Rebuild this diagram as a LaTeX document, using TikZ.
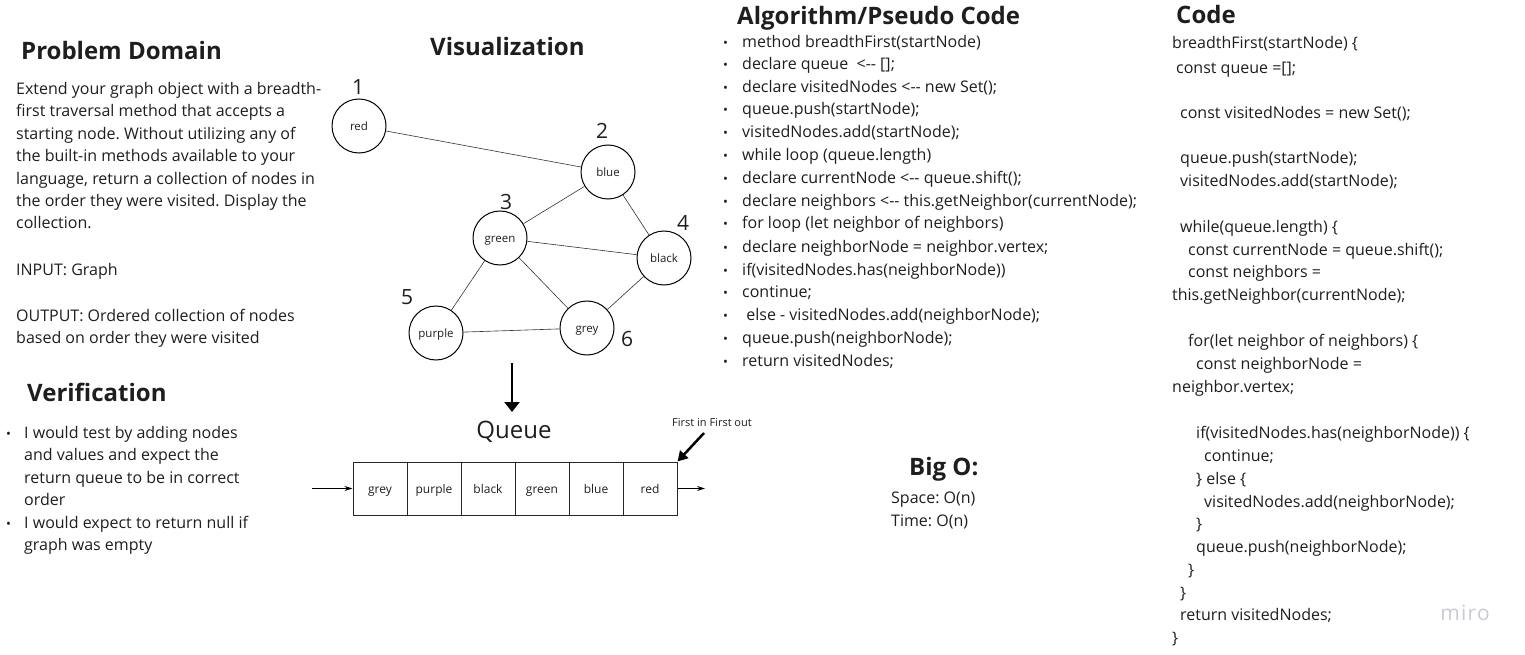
\documentclass[tikz,border=0pt]{standalone}
\usepackage{fontspec}
\setmainfont{Open Sans}
\usetikzlibrary{arrows.meta}
\frenchspacing
\definecolor{ink}{HTML}{1E1E1E}
\definecolor{miro}{HTML}{C9CAD3}
\tikzset{
  heading/.style={anchor=base west, inner sep=0pt, font=\fontsize{24}{27}\selectfont\bfseries, text=ink},
  body/.style={anchor=base west, inner sep=0pt, font=\fontsize{16}{18}\selectfont, text=ink},
  bul/.style={anchor=base west, inner sep=0pt, font=\fontsize{13}{15}\selectfont, text=ink},
  vertex/.style={circle, draw=black, line width=1pt, minimum size=54pt, inner sep=0pt, text height=9.5pt, text depth=1pt, font=\fontsize{11.5}{13}\selectfont, text=ink},
  num/.style={inner sep=0pt, font=\fontsize{21}{24}\selectfont, text=ink},
  edge/.style={draw=black!80, line width=0.6pt},
  cell/.style={draw=black!85, line width=1pt, minimum width=54pt, minimum height=53pt, inner sep=0pt, text height=10.5pt, text depth=1pt, font=\fontsize{12}{14}\selectfont, text=ink},
}
\begin{document}
\begin{tikzpicture}[x=1pt,y=-1pt]
\useasboundingbox (0,0) rectangle (1525,655);
% ---------- Problem domain ----------
\node[heading] (hpd) at (21,60) {Problem Domain};
\node[body] (pd1) at (16,95) {Extend your graph object with a breadth-};
\node[body] (pd2) at (16,117) {first traversal method that accepts a};
\node[body] (pd3) at (16,140) {starting node. Without utilizing any of};
\node[body] (pd4) at (16,162) {the built-in methods available to your};
\node[body] (pd5) at (16,185) {language, return a collection of nodes in};
\node[body] (pd6) at (16,207) {the order they were visited. Display the};
\node[body] (pd7) at (16,229) {collection.};
\node[body] (pd8) at (16,275) {INPUT: Graph};
\node[body] (pd9) at (16,321) {OUTPUT: Ordered collection of nodes};
\node[body] (pd10) at (16,343) {based on order they were visited};
% ---------- Verification ----------
\node[heading] (hver) at (27,401) {Verification};
\node[bul] (vb1) at (6,438) {•};
\node[body] (v1) at (24,438) {I would test by adding nodes};
\node[body] (v2) at (24,460) {and values and expect the};
\node[body] (v3) at (24,483) {return queue to be in correct};
\node[body] (v4) at (24,505) {order};
\node[bul] (vb2) at (6,528) {•};
\node[body] (v5) at (24,528) {I would expect to return null if};
\node[body] (v6) at (24,550) {graph was empty};
% ---------- Visualization ----------
\node[heading] (hvis) at (430,56) {Visualization};
\node[vertex] (red) at (359,126) {red};
\node[vertex] (blue) at (608,172) {blue};
\node[vertex] (green) at (500,238) {green};
\node[vertex] (black) at (664,258) {black};
\node[vertex] (purple) at (436,333) {purple};
\node[vertex] (grey) at (587,328) {grey};
\node[num] (n1) at (358,87) {1};
\node[num] (n2) at (602,131) {2};
\node[num] (n3) at (506,202) {3};
\node[num] (n4) at (683,223) {4};
\node[num] (n5) at (407,297) {5};
\node[num] (n6) at (627,339) {6};
\draw[edge] (red) -- (blue);
\draw[edge] (blue) -- (green);
\draw[edge] (blue) -- (black);
\draw[edge] (green) -- (black);
\draw[edge] (green) -- (purple);
\draw[edge] (green) -- (grey);
\draw[edge] (black) -- (grey);
\draw[edge] (purple) -- (grey);
% arrow down to queue
\coordinate (dtop) at (512,363);
\coordinate (dbot) at (512,412);
\draw[line width=2.8pt, -{Triangle[width=15pt,length=10pt]}] (dtop) -- (dbot);
% ---------- Queue ----------
\node[inner sep=0pt, font=\fontsize{24}{27}\selectfont, text=ink] (qlabel) at (514,432) {Queue};
\node[cell] (q1) at (380,488.5) {grey};
\node[cell] (q2) at (434,488.5) {purple};
\node[cell] (q3) at (488,488.5) {black};
\node[cell] (q4) at (542,488.5) {green};
\node[cell] (q5) at (596,488.5) {blue};
\node[cell] (q6) at (650,488.5) {red};
\coordinate (qin) at (312,488.5);
\coordinate (qout) at (705,488.5);
\draw[line width=0.7pt, -{Stealth[length=8pt,width=5pt]}] (qin) -- (q1.west);
\draw[line width=0.7pt, -{Stealth[length=8pt,width=5pt]}] (q6.east) -- (qout);
\node[inner sep=0pt, font=\fontsize{11}{13}\selectfont, text=ink] (fifo) at (712,423) {First in First out};
\coordinate (fifoa) at (704,433);
\draw[line width=2.5pt, -{Triangle[width=11pt,length=10pt]}] (fifoa) -- (q6.north east);
% ---------- Algorithm ----------
\node[heading] (halg) at (737,25) {Algorithm/Pseudo Code};
\foreach \i/\t [count=\k] in {
 43/{method breadthFirst(startNode)},
 65/{declare queue~~<-{}- [];},
 88/{declare visitedNodes <-{}- new Set();},
 110/{queue.push(startNode);},
 133/{visitedNodes.add(startNode);},
 156/{while loop (queue.length)},
 179/{declare currentNode <-{}- queue.shift();},
 202/{declare neighbors <-{}- this.getNeighbor(currentNode);},
 224/{for loop (let neighbor of neighbors)},
 247/{declare neighborNode = neighbor.vertex;},
 270/{if(visitedNodes.has(neighborNode))},
 292/{continue;},
 315/{~else - visitedNodes.add(neighborNode);},
 338/{queue.push(neighborNode);},
 361/{return visitedNodes;}} {
  \node[bul] (ab\k) at (723,\i+5) {•};
  \node[body] (al\k) at (742,\i+5) {\t};
}
% ---------- Big O ----------
\node[heading] (hbig) at (909,475) {Big O:};
\node[body] (sp) at (891,503) {Space: O(n)};
\node[body] (tm) at (891,526) {Time: O(n)};
% ---------- Code ----------
\node[heading] (hcode) at (1176,24) {Code};
\foreach \x/\y/\t [count=\k] in {
 1172/44/{breadthFirst(startNode) \{},
 1176/69/{const queue =[];},
 1180/114/{const visitedNodes = new Set();},
 1180/159/{queue.push(startNode);},
 1180/182/{visitedNodes.add(startNode);},
 1180/227/{while(queue.length) \{},
 1188/250/{const currentNode = queue.shift();},
 1188/272/{const neighbors =},
 1172/295/{this.getNeighbor(currentNode);},
 1188/341/{for(let neighbor of neighbors) \{},
 1196/364/{const neighborNode =},
 1172/387/{neighbor.vertex;},
 1196/433/{if(visitedNodes.has(neighborNode)) \{},
 1204/456/{continue;},
 1196/479/{\} else \{},
 1204/502/{visitedNodes.add(neighborNode);},
 1196/524/{\}},
 1196/547/{queue.push(neighborNode);},
 1188/570/{\}},
 1180/593/{\}},
 1180/615/{return visitedNodes;},
 1172/638/{\}}} {
  \node[body] (cl\k) at (\x,\y+5) {\t};
}
\node[inner sep=0pt, font=\fontsize{21}{24}\selectfont\addfontfeatures{LetterSpace=6}, text=miro] (wm) at (1465,613) {miro};
\end{tikzpicture}
\end{document}
